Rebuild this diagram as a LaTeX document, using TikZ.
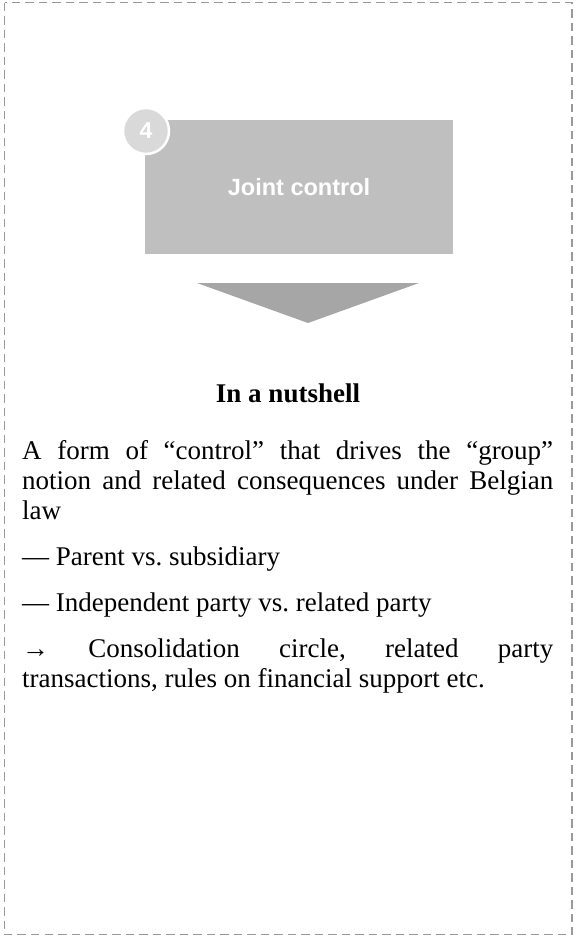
\documentclass[tikz,border=0pt]{standalone}
\usepackage{fontspec}
\setmainfont{Liberation Serif}
\newfontfamily\boxfont{Liberation Sans}
\definecolor{framegray}{HTML}{999999}
\definecolor{boxgray}{HTML}{BFBFBF}
\definecolor{circgray}{HTML}{D9D9D9}
\definecolor{trigray}{HTML}{A6A6A6}
\begin{document}
\begin{tikzpicture}[x=1pt,y=-1pt,
  frame/.style={draw=framegray, line width=1.6pt, dash pattern=on 8.5pt off 5pt},
  stepbox/.style={fill=boxgray, draw=none, minimum width=308pt, minimum height=134pt, inner sep=0pt},
  numcirc/.style={circle, fill=circgray, draw=white, line width=2.5pt, minimum size=46pt, inner sep=0pt},
  bodytext/.style={anchor=north west, text width=531pt, align=justify, inner sep=0pt, font=\fontsize{27}{30}\selectfont}
]
\useasboundingbox (0,0) rectangle (577,937);
\draw[frame] (4.5,2.5) rectangle (572,934.5);
\node[stepbox] (box) at (299,187) {\boxfont\bfseries\fontsize{23.5}{28}\selectfont\color{white}Joint control};
\node[numcirc] (num) at (146,131) {\boxfont\bfseries\fontsize{23}{27}\selectfont\color{white}4};
\coordinate (tl) at (197,283);
\coordinate (tr) at (419,283);
\coordinate (tip) at (308,323);
\fill[trigray] (tl) -- (tr) -- (tip) -- cycle;
\node[font=\bfseries\fontsize{27}{30}\selectfont, inner sep=0pt, anchor=base] (head) at (288,402) {In a nutshell};
\node[bodytext] (body) at (22,440) {\frenchspacing\tolerance=10000\hyphenpenalty=10000\parskip=16pt\parindent=0pt
A form of “control” that drives the “group”\linebreak notion and related consequences under Belgian\linebreak law\par
— Parent vs. subsidiary\par
— Independent party vs. related party\par
→ Consolidation circle, related party\linebreak transactions, rules on financial support etc.\par};
\end{tikzpicture}
\end{document}
